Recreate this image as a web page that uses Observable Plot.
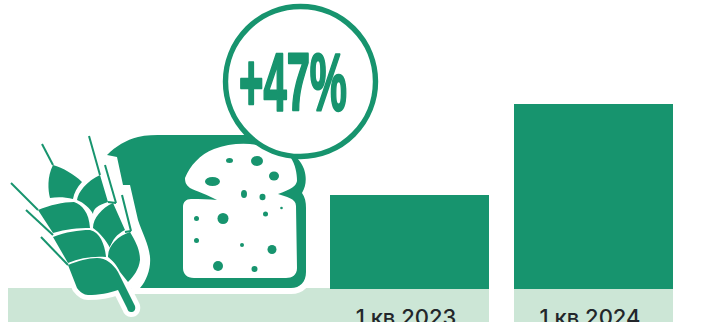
<!DOCTYPE html>
<html>
<head>
<meta charset="utf-8">
<script src="https://cdn.jsdelivr.net/npm/d3@7"></script>
<script src="https://cdn.jsdelivr.net/npm/@observablehq/plot@0.6"></script>
<style>
  html, body { margin: 0; padding: 0; background: #fff; overflow: hidden; }
  svg { display: block; }
</style>
</head>
<body>
<script>
// Quarterly comparison: two bars and a growth badge
const quarters = ["1 кв 2023", "1 кв 2024"];
const barHeights = [94, 185];
const growthLabel = "+47%";

const green = "#17946e";
const pale = "#cce6d6";
const ink = "#23262a";

// Illustration outlines
const breadOutline = "M107,155 C116,146 126,140 138,137 C146,135 155,135 165,135 L250,135 L285,148 C294,153 301,161 304,169 C307,178 306,186 302,193 C305,197 306,202 306,208 L306,272 C306,282 300,288 291,288 L140,288 C147,280 151,268 150,257 C149,245 142,232 138,220 L130,185 L123,185 L117,157 Z";
const sliceOutline = "M185,178 C190,166 200,154 214,149 C230,143 250,142 265,147 C277,150 287,152 291,158 C295,164 297,173 297,181 C296,186 292,189 278,194 C286,197 296,198 296,206 L297,268 C297,275 292,278 286,278 L194,278 C187,278 183,274 183,268 L183,207 C183,202 186,199 191,199 C200,199 209,199 217,200 C208,195 196,191 190,188 C186,185 185,182 185,178 Z";
const crumbHoles = [
  [229.5, 160.5, 3.5, 2.5], [257, 161, 6, 5], [274, 176, 5, 4.5], [212.5, 181.5, 7.5, 4.5],
  [244, 194, 3, 4], [262.5, 197, 3, 3.2], [281.5, 208, 1.3, 1.3], [265.5, 214, 2.5, 2.5],
  [223, 218.5, 5.5, 5.5], [196.5, 218.5, 2.5, 2.5], [196.5, 240.5, 2.5, 2.5], [242, 245, 2, 2],
  [272, 249.5, 4.5, 4.5], [218, 266, 5, 5], [254.5, 269, 3, 3]
];
const wheatGrains = [
  "M53,165 C63,168 74,174 82,182 C77,187 74,193 73,199 C65,197 57,197 50,198 C48,190 47,177 53,165 Z",
  "M100,175 L108,202 C98,205 93,209 93,214 C90,208 84,203 77,200 C78,192 87,181 100,175 Z",
  "M38,210 C50,205 63,202 74,202 C82,205 89,212 90,228 C78,228 66,229 53,233 Z",
  "M113,203 L125,230 C117,234 112,240 110,248 C106,240 100,233 93,228 C93,218 102,208 113,203 Z",
  "M53,237 C66,232 78,230 90,230 C100,232 105,245 106,257 C92,256 80,258 68,263 Z",
  "M130,232 C136,242 140,250 140,260 C139,269 134,276 128,282 L120,272 C117,265 112,260 108,257 C108,245 118,236 130,232 Z",
  "M68,265 C78,261 88,258 97,258 C106,258 113,264 118,272 L135,306 C136,310 134,312 131,312 C129,312 128,311 127,308 L118,290 C110,293 98,295 88,295 C84,295 80,292 77,288 Z"
];
const wheatAwns = [
  "M53,165 L42,144", "M100,175 L89,136", "M38,210 L11,183", "M53,235 L26,210",
  "M68,265 L41,237", "M105,165 L116,203", "M122,195 L131,231", "M116,203 L108,202", "M131,231 L125,232"
];

// Hand-drawn background strip and bread-with-wheat artwork
function breadIcon() {
  const g = d3.create("svg:g");
  g.append("path").attr("d", breadOutline).attr("fill", green)
    .attr("stroke", "#fff").attr("stroke-width", 12).attr("paint-order", "stroke");
  g.append("path").attr("d", sliceOutline).attr("fill", "#fff");
  g.selectAll("ellipse").data(crumbHoles).join("ellipse")
    .attr("cx", d => d[0]).attr("cy", d => d[1]).attr("rx", d => d[2]).attr("ry", d => d[3])
    .attr("fill", green);
  const halo = g.append("g").attr("fill", "#fff").attr("stroke", "#fff").attr("stroke-width", 10).attr("stroke-linejoin", "round");
  halo.selectAll("path").data(wheatGrains).join("path").attr("d", d => d);
  const grains = g.append("g").attr("fill", green).attr("stroke", "#fff").attr("stroke-width", 1.6).attr("paint-order", "stroke");
  grains.selectAll("path").data(wheatGrains).join("path").attr("d", d => d);
  g.append("g").attr("stroke", green).attr("stroke-width", 2).attr("fill", "none")
    .selectAll("path").data(wheatAwns).join("path").attr("d", d => d);
  g.append("circle").attr("cx", 300.5).attr("cy", 81.5).attr("r", 75).attr("fill", "#fff")
    .attr("stroke", green).attr("stroke-width", 5.4);
  return g.node();
}
function stripBehindIcon() {
  return d3.create("svg:rect").attr("x", 8).attr("y", 288).attr("width", 322).attr("height", 34).attr("fill", pale).node();
}

// Squeezes the badge label into a tall, condensed shape
function condense(index, scales, values, dimensions, context, next) {
  const g = next(index, scales, values, dimensions, context);
  d3.select(g).selectAll("text").attr("textLength", 108).attr("lengthAdjust", "spacingAndGlyphs");
  return g;
}

const bars = quarters.map((quarter, i) => ({quarter, height: barHeights[i]}));

const chart = Plot.plot({
  width: 707,
  height: 322,
  margin: 0,
  x: {type: "band", domain: quarters, range: [330, 673], paddingInner: 25 / 184, paddingOuter: 0, axis: null},
  y: {domain: [-33, 289], range: [322, 0], axis: null},
  marks: [
    stripBehindIcon,
    Plot.barY(bars, {x: "quarter", y1: -33, y2: 0, fill: pale}),
    Plot.barY(bars, {x: "quarter", y1: 0, y2: "height", fill: green}),
    Plot.text(bars, {
      x: "quarter", y: -34, dx: -4, dy: 1, text: "quarter", lineAnchor: "bottom", textAnchor: "middle",
      fontFamily: "Inter", fontSize: 22, fontWeight: 500, fill: ink
    }),
    breadIcon,
    Plot.text([growthLabel], {
      text: d => d, frameAnchor: "top-left", dx: 292.5, dy: 109, lineAnchor: "bottom",
      textAnchor: "middle", fontFamily: "Liberation Sans", fontWeight: 700, fontSize: 81,
      fill: green, stroke: green, strokeWidth: 2.4, render: condense
    })
  ]
});
document.body.append(chart);
</script>
</body>
</html>
